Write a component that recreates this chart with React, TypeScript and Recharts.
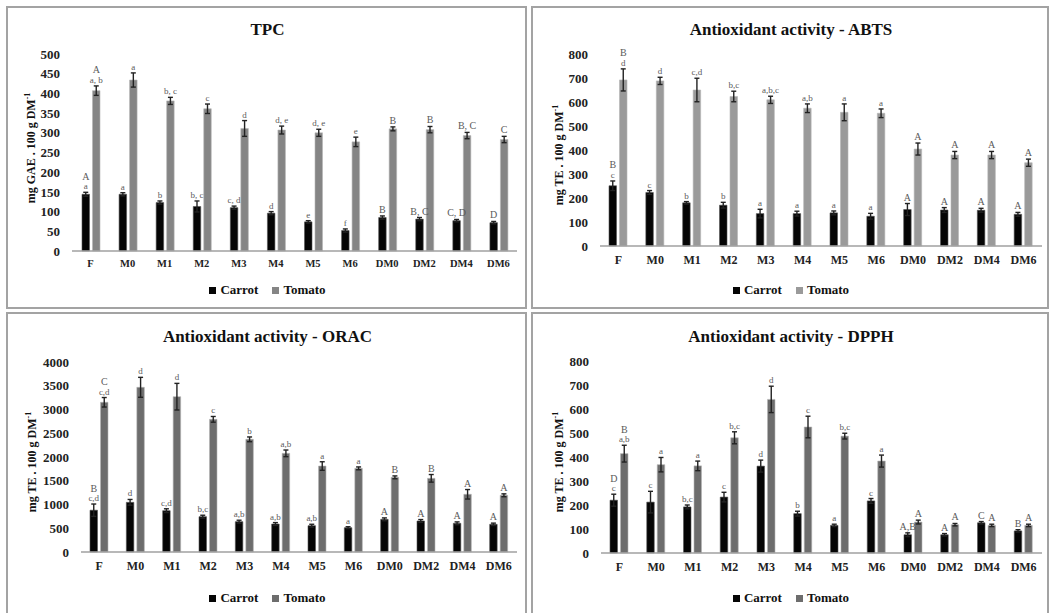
import React from 'react';
import { BarChart, Bar, XAxis, YAxis, ErrorBar, LabelList } from 'recharts';

const categories = ['F', 'M0', 'M1', 'M2', 'M3', 'M4', 'M5', 'M6', 'DM0', 'DM2', 'DM4', 'DM6'];

// TPC (mg GAE . 100 g DM-1)
const tpcCarrot = [144, 144, 123, 113, 110, 96, 74, 52, 85, 81, 77, 72];
const tpcCarrotErr = [5, 4, 4, 14, 4, 4, 3, 4, 4, 4, 3, 3];
const tpcCarrotLabels = ['A\na', 'a', 'b', 'b, c', 'c, d', 'd', 'e', 'f', 'B', 'B, C', 'C, D', 'D'];
const tpcTomato = [407, 434, 381, 361, 311, 307, 300, 277, 310, 308, 293, 283];
const tpcTomatoErr = [12, 18, 9, 12, 20, 10, 9, 12, 5, 8, 8, 8];
const tpcTomatoLabels = ['A\na, b', 'a', 'b, c', 'c', 'd', 'd, e', 'd, e', 'e', 'B', 'B', 'B, C', 'C'];
const tpcTicks = [0, 50, 100, 150, 200, 250, 300, 350, 400, 450, 500];

// ABTS (mg TE . 100 g DM-1)
const abtsCarrot = [251, 223, 180, 170, 135, 135, 138, 124, 152, 150, 149, 132];
const abtsCarrotErr = [20, 8, 5, 12, 18, 10, 8, 12, 25, 10, 8, 8];
const abtsCarrotLabels = ['B\nc', 'c', 'b', 'b', 'a', 'a', 'a', 'a', 'A', 'A', 'A', 'A'];
const abtsTomato = [692, 688, 650, 623, 609, 574, 557, 553, 404, 379, 379, 347];
const abtsTomatoErr = [46, 15, 49, 22, 15, 18, 35, 18, 25, 15, 15, 15];
const abtsTomatoLabels = ['B\nd', 'd', 'c,d', 'b,c', 'a,b,c', 'a,b', 'a', 'a', 'A', 'A', 'A', 'A'];
const abtsTicks = [0, 100, 200, 300, 400, 500, 600, 700, 800];

// ORAC (mg TE . 100 g DM-1)
const oracCarrot = [880, 1046, 870, 744, 639, 589, 554, 512, 688, 653, 604, 583];
const oracCarrotErr = [130, 60, 40, 30, 30, 30, 30, 20, 30, 30, 30, 25];
const oracCarrotLabels = ['B\nc,d', 'd', 'c,d', 'b,c', 'a,b', 'a,b', 'a,b', 'a', 'A', 'A', 'A', 'A'];
const oracTomato = [3152, 3467, 3270, 2793, 2372, 2077, 1810, 1761, 1572, 1551, 1215, 1194];
const oracTomatoErr = [100, 210, 280, 60, 50, 70, 90, 30, 30, 80, 100, 30];
const oracTomatoLabels = ['C\nc,d', 'd', 'd', 'c', 'b', 'a,b', 'a', 'a', 'B', 'B', 'A', 'A'];
const oracTicks = [0, 500, 1000, 1500, 2000, 2500, 3000, 3500, 4000];

// DPPH (mg TE . 100 g DM-1)
const dpphCarrot = [220, 212, 192, 233, 362, 164, 115, 217, 76, 76, 126, 92];
const dpphCarrotErr = [25, 45, 8, 20, 25, 10, 5, 10, 8, 5, 5, 5];
const dpphCarrotLabels = ['D\nc', 'c', 'b,c', 'c', 'd', 'b', 'a', 'c', 'A,B', 'A', 'C', 'B'];
const dpphTomato = [414, 368, 363, 480, 640, 525, 487, 383, 129, 118, 115, 115];
const dpphTomatoErr = [35, 30, 20, 25, 55, 45, 12, 25, 8, 5, 5, 5];
const dpphTomatoLabels = ['B\na,b', 'a', 'a', 'b,c', 'd', 'c', 'b,c', 'a', 'A', 'A', 'A', 'A'];
const dpphTicks = [0, 100, 200, 300, 400, 500, 600, 700, 800];

const SERIF = "'Liberation Serif', 'Times New Roman', serif";
const CARROT_COLOR = '#050505';

type Rect = { left: number; top: number; width: number; height: number };
type PlotRect = { left: number; top: number; right: number; bottom: number };

type PanelProps = {
  box: Rect;
  plot: PlotRect;
  title: string;
  titleY: number;
  yUnit: string;
  yLabelPos: { x: number; y: number };
  legendY: number;
  ticks: number[];
  carrot: number[];
  carrotErr: number[];
  carrotLabels: string[];
  tomato: number[];
  tomatoErr: number[];
  tomatoLabels: string[];
  tomatoColor: string;
  xTickFont: number;
};

// Significance letters stacked above each error bar
const letterLabel = (errs: number[], values: number[]) => (props: any) => {
  const vb = props.viewBox ?? {};
  const x = Number(vb.x ?? props.x);
  const y = Number(vb.y ?? props.y);
  const w = Number(vb.width ?? props.width);
  const h = Number(vb.height ?? props.height);
  const i = props.index;
  const text = props.value;
  if (i == null || !text) return null;
  const v = values[i];
  const pxPerUnit = v ? Math.abs(h) / v : 0;
  const top = Math.min(y, y + h) - errs[i] * pxPerUnit;
  const lines = String(text).split('\n');
  const cx = x + w / 2;
  return (
    <g>
      {lines.map((ln, k) => (
        <text
          key={k}
          x={cx}
          y={top - 3 - (lines.length - 1 - k) * 9.5}
          textAnchor="middle"
          fontSize={/[A-Z]/.test(ln) ? 10 : 9}
          fill="#5a5a5a"
          fontFamily={SERIF}
        >
          {ln}
        </text>
      ))}
    </g>
  );
};

function Panel(p: PanelProps) {
  const { box, plot } = p;
  const chartLeft = box.left + 1;
  const chartTop = box.top + 1;
  const chartW = box.width - 2;
  const chartH = box.height - 2;
  const xAxisH = 30;
  const margin = {
    top: plot.top - chartTop,
    right: chartLeft + chartW - plot.right,
    bottom: chartTop + chartH - plot.bottom - xAxisH,
    left: 0,
  };
  const yAxisW = plot.left - chartLeft;
  const data = categories.map((name, i) => ({
    name,
    carrot: p.carrot[i],
    carrotErr: p.carrotErr[i],
    carrotLab: p.carrotLabels[i],
    tomato: p.tomato[i],
    tomatoErr: p.tomatoErr[i],
    tomatoLab: p.tomatoLabels[i],
  }));
  const yMax = p.ticks[p.ticks.length - 1];
  const tickStyle = { fontSize: 13, fontWeight: 700, fill: '#222', fontFamily: SERIF };
  const centerX = box.left + box.width / 2;

  return (
    <>
      <div
        style={{
          position: 'absolute',
          left: box.left - 1,
          top: box.top - 1,
          width: box.width,
          height: box.height,
          border: '2px solid #a3a3a3',
          boxSizing: 'border-box',
        }}
      />
      <div
        style={{
          position: 'absolute',
          left: centerX - 200,
          width: 400,
          top: p.titleY - 11,
          textAlign: 'center',
          font: `bold 17px ${SERIF}`,
          color: '#111',
          lineHeight: '22px',
        }}
      >
        {p.title}
      </div>
      <div
        style={{
          position: 'absolute',
          left: p.yLabelPos.x,
          top: p.yLabelPos.y,
          transform: 'translate(-50%, -50%) rotate(-90deg)',
          whiteSpace: 'nowrap',
          font: `bold 12px ${SERIF}`,
          color: '#111',
        }}
      >
        {p.yUnit}
        <sup style={{ fontSize: 8 }}>-1</sup>
      </div>
      <div style={{ position: 'absolute', left: chartLeft, top: chartTop }}>
        <BarChart
          width={chartW}
          height={chartH}
          data={data}
          margin={margin}
          barSize={7.5}
          barGap={3}
        >
          <XAxis
            dataKey="name"
            height={xAxisH}
            interval={0}
            tickLine={false}
            tickSize={0}
            tickMargin={9}
            axisLine={{ stroke: '#a0a0a0', strokeWidth: 1.5 }}
            tick={{ ...tickStyle, fontSize: p.xTickFont }}
          />
          <YAxis
            type="number"
            width={yAxisW}
            domain={[0, yMax]}
            ticks={p.ticks}
            interval={0}
            axisLine={false}
            tickLine={false}
            tickSize={0}
            tickMargin={12}
            tick={tickStyle}
          />
          <Bar dataKey="carrot" fill={CARROT_COLOR} stroke="#555" strokeWidth={0.6} isAnimationActive={false}>
            <ErrorBar dataKey="carrotErr" direction="y" width={2.5} stroke="#222" strokeWidth={1.4} />
            <LabelList dataKey="carrotLab" content={letterLabel(p.carrotErr, p.carrot)} />
          </Bar>
          <Bar dataKey="tomato" fill={p.tomatoColor} stroke="#b5b5b5" strokeWidth={0.6} isAnimationActive={false}>
            <ErrorBar dataKey="tomatoErr" direction="y" width={2.5} stroke="#222" strokeWidth={1.4} />
            <LabelList dataKey="tomatoLab" content={letterLabel(p.tomatoErr, p.tomato)} />
          </Bar>
        </BarChart>
      </div>
      <div
        style={{
          position: 'absolute',
          left: box.left,
          width: box.width,
          top: p.legendY - 9,
          height: 18,
          display: 'flex',
          justifyContent: 'center',
          alignItems: 'center',
          gap: 14,
          font: `bold 13px ${SERIF}`,
          color: '#111',
        }}
      >
        <span style={{ display: 'flex', alignItems: 'center' }}>
          <span style={{ width: 7, height: 7, background: CARROT_COLOR, marginRight: 4, display: 'inline-block' }} />
          Carrot
        </span>
        <span style={{ display: 'flex', alignItems: 'center' }}>
          <span style={{ width: 7, height: 7, background: p.tomatoColor, marginRight: 4, display: 'inline-block' }} />
          Tomato
        </span>
      </div>
    </>
  );
}

export default function App() {
  return (
    <div
      style={{
        position: 'absolute',
        left: 0,
        top: 0,
        width: 1055,
        height: 613,
        background: '#fff',
        overflow: 'hidden',
      }}
    >
      <Panel
        box={{ left: 7, top: 7, width: 521, height: 303 }}
        plot={{ left: 72, top: 54, right: 517, bottom: 251 }}
        title="TPC"
        titleY={30}
        yUnit="mg GAE . 100 g DM"
        yLabelPos={{ x: 31, y: 148 }}
        legendY={290}
        ticks={tpcTicks}
        carrot={tpcCarrot}
        carrotErr={tpcCarrotErr}
        carrotLabels={tpcCarrotLabels}
        tomato={tpcTomato}
        tomatoErr={tpcTomatoErr}
        tomatoLabels={tpcTomatoLabels}
        tomatoColor="#858585"
        xTickFont={10.5}
      />
      <Panel
        box={{ left: 532, top: 7, width: 518, height: 303 }}
        plot={{ left: 600, top: 54, right: 1042, bottom: 246 }}
        title="Antioxidant activity - ABTS"
        titleY={30}
        yUnit="mg TE . 100 g DM"
        yLabelPos={{ x: 559, y: 155 }}
        legendY={290}
        ticks={abtsTicks}
        carrot={abtsCarrot}
        carrotErr={abtsCarrotErr}
        carrotLabels={abtsCarrotLabels}
        tomato={abtsTomato}
        tomatoErr={abtsTomatoErr}
        tomatoLabels={abtsTomatoLabels}
        tomatoColor="#9a9a9a"
        xTickFont={12}
      />
      <Panel
        box={{ left: 7, top: 313, width: 521, height: 310 }}
        plot={{ left: 81, top: 362, right: 517, bottom: 552 }}
        title="Antioxidant activity - ORAC"
        titleY={337}
        yUnit="mg TE . 100 g DM"
        yLabelPos={{ x: 32, y: 462 }}
        legendY={598}
        ticks={oracTicks}
        carrot={oracCarrot}
        carrotErr={oracCarrotErr}
        carrotLabels={oracCarrotLabels}
        tomato={oracTomato}
        tomatoErr={oracTomatoErr}
        tomatoLabels={oracTomatoLabels}
        tomatoColor="#6d6d6d"
        xTickFont={12}
      />
      <Panel
        box={{ left: 532, top: 313, width: 518, height: 310 }}
        plot={{ left: 601, top: 361, right: 1042, bottom: 553 }}
        title="Antioxidant activity - DPPH"
        titleY={337}
        yUnit="mg TE . 100 g DM"
        yLabelPos={{ x: 559, y: 462 }}
        legendY={598}
        ticks={dpphTicks}
        carrot={dpphCarrot}
        carrotErr={dpphCarrotErr}
        carrotLabels={dpphCarrotLabels}
        tomato={dpphTomato}
        tomatoErr={dpphTomatoErr}
        tomatoLabels={dpphTomatoLabels}
        tomatoColor="#6d6d6d"
        xTickFont={12}
      />
    </div>
  );
}
